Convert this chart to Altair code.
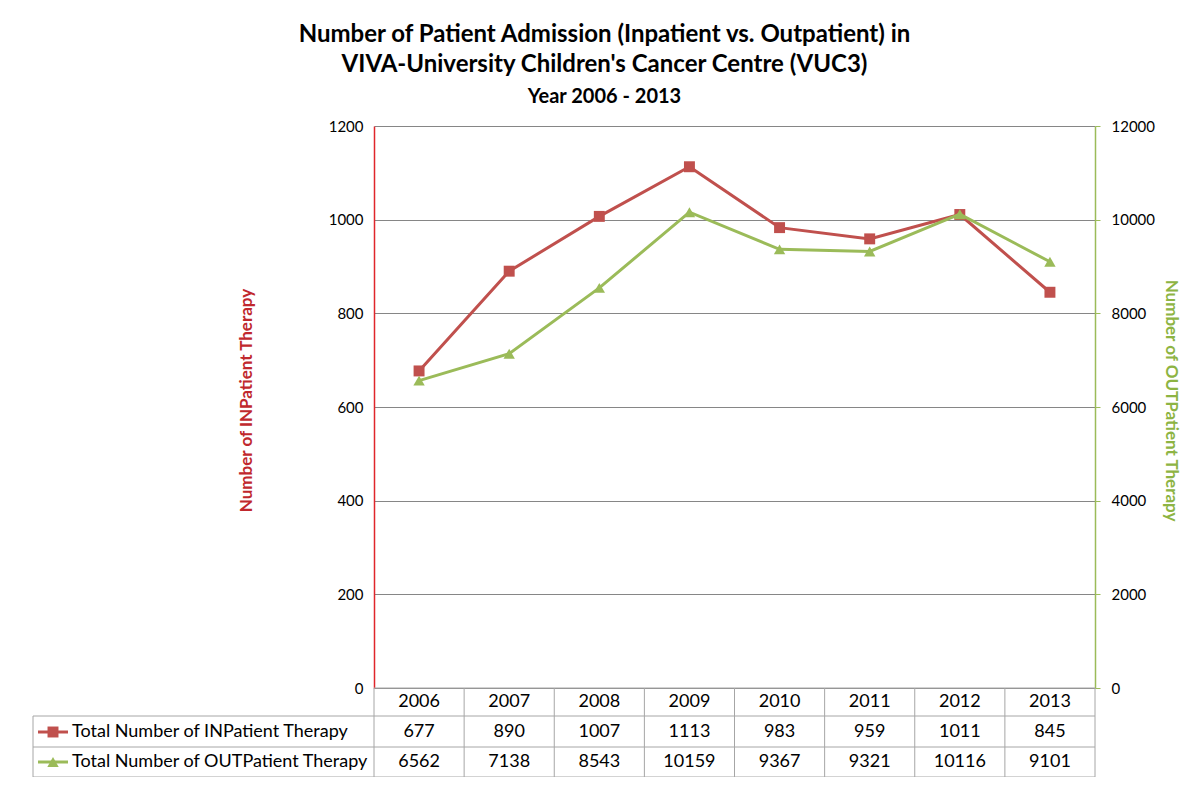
import altair as alt
import pandas as pd

years = ["2006", "2007", "2008", "2009", "2010", "2011", "2012", "2013"]
inpatient = [677, 890, 1007, 1113, 983, 959, 1011, 845]
outpatient = [6562, 7138, 8543, 10159, 9367, 9321, 10116, 9101]
in_ticks = [0, 200, 400, 600, 800, 1000, 1200]
out_ticks = [0, 2000, 4000, 6000, 8000, 10000, 12000]
series_labels = ["Total Number of INPatient Therapy", "Total Number of OUTPatient Therapy"]
title_lines = ["Number of Patient Admission (Inpatient vs. Outpatient) in",
               "VIVA-University Children's Cancer Centre (VUC3)"]
subtitle = "Year 2006 - 2013"

RED = "#C0504D"
GREEN = "#9BBB59"
FONT = "Lato"
W, H = 721, 562
O = 129  # reference y of plot top (for relative offsets)

df_in = pd.DataFrame({"year": years, "value": inpatient})
df_out = pd.DataFrame({"year": years, "value": outpatient})
df_years = pd.DataFrame({"year": years})

xscale = alt.Scale(type="band", domain=years, paddingInner=0, paddingOuter=0)
xenc = alt.X("year:N", scale=xscale, axis=None, bandPosition=0.5)

y_in = alt.Y("value:Q", scale=alt.Scale(domain=[0, 1200], nice=False),
             axis=alt.Axis(values=in_ticks, format="d", grid=True, gridColor="#868686", gridWidth=1,
                           domainColor="#E0262B", domainWidth=1.5, ticks=False,
                           labelPadding=11, labelFontSize=15, labelFont=FONT, labelColor="#000",
                           title="Number of INPatient Therapy", titleColor="#C0282D",
                           titleFontSize=17, titleFont=FONT, titleFontWeight="bold",
                           titleX=-128, titleY=274, titleAlign="center", titleBaseline="middle"))
y_out = alt.Y("value:Q", scale=alt.Scale(domain=[0, 12000], nice=False),
              axis=alt.Axis(orient="right", values=out_ticks, format="d", grid=False,
                            domainColor=GREEN, domainWidth=1.5, ticks=True, tickColor=GREEN,
                            tickSize=5, labelPadding=11, labelFontSize=15, labelFont=FONT,
                            labelColor="#000",
                            title="Number of OUTPatient Therapy", titleColor="#8DB443",
                            titleFontSize=17, titleFont=FONT, titleFontWeight="bold",
                            titleX=75, titleY=274, titleAlign="center", titleBaseline="middle"))

in_base = alt.Chart(df_in).encode(x=xenc, y=y_in)
left_layer = alt.layer(
    in_base.mark_line(color=RED, strokeWidth=3),
    in_base.mark_point(shape="square", filled=True, color=RED, size=120, opacity=1),
)
out_base = alt.Chart(df_out).encode(x=xenc, y=y_out)
right_layer = alt.layer(
    out_base.mark_line(color=GREEN, strokeWidth=3),
    out_base.mark_point(shape="triangle-up", filled=True, color=GREEN, size=130, opacity=1),
)

TC = "#A6A6A6"
one = pd.DataFrame({"k": [0]})
vlines = alt.Chart(df_years).mark_rule(color=TC, strokeWidth=1).encode(
    x=alt.X("year:N", scale=xscale, axis=None, bandPosition=0),
    y=alt.value(H), y2=alt.value(780 - O),
)
deco = [
    alt.Chart(one).mark_rule(color=TC).encode(x=alt.value(W), y=alt.value(H), y2=alt.value(780 - O)),
    alt.Chart(one).mark_rule(color=TC).encode(x=alt.value(-341), y=alt.value(719 - O), y2=alt.value(780 - O)),
    alt.Chart(one).mark_rule(color=TC).encode(x=alt.value(0), x2=alt.value(W), y=alt.value(H)),
    alt.Chart(one).mark_rule(color=TC).encode(x=alt.value(-341), x2=alt.value(W), y=alt.value(719 - O)),
    alt.Chart(one).mark_rule(color=TC).encode(x=alt.value(-341), x2=alt.value(W), y=alt.value(750 - O)),
    alt.Chart(one).mark_rule(color=TC).encode(x=alt.value(-341), x2=alt.value(W), y=alt.value(780 - O)),
]

tx = alt.X("year:N", scale=xscale, axis=None, bandPosition=0.5)
TS = 18
hdr = alt.Chart(df_years).mark_text(fontSize=TS, font=FONT, color="#000", baseline="middle").encode(
    x=tx, y=alt.value(705 - O), text="year:N")
row1 = alt.Chart(df_in).mark_text(fontSize=TS, font=FONT, color="#000", baseline="middle").encode(
    x=tx, y=alt.value(735 - O), text="value:Q")
row2 = alt.Chart(df_out).mark_text(fontSize=TS, font=FONT, color="#000", baseline="middle").encode(
    x=tx, y=alt.value(765 - O), text="value:Q")

lab_df = pd.DataFrame({"label": series_labels})
lab1 = alt.Chart(lab_df.iloc[[0]]).mark_text(fontSize=TS, font=FONT, color="#000", align="left", baseline="middle").encode(
    x=alt.value(-302), y=alt.value(735 - O), text="label:N")
lab2 = alt.Chart(lab_df.iloc[[1]]).mark_text(fontSize=TS, font=FONT, color="#000", align="left", baseline="middle").encode(
    x=alt.value(-302), y=alt.value(765 - O), text="label:N")
keys = [
    alt.Chart(one).mark_rule(color=RED, strokeWidth=3).encode(
        x=alt.value(-336), x2=alt.value(-306), y=alt.value(735 - O)),
    alt.Chart(one).mark_point(shape="square", filled=True, color=RED, size=120, opacity=1).encode(
        x=alt.value(-321), y=alt.value(735 - O)),
    alt.Chart(one).mark_rule(color=GREEN, strokeWidth=3).encode(
        x=alt.value(-336), x2=alt.value(-306), y=alt.value(765 - O)),
    alt.Chart(one).mark_point(shape="triangle-up", filled=True, color=GREEN, size=130, opacity=1).encode(
        x=alt.value(-321), y=alt.value(765 - O)),
]

chart = alt.layer(
    left_layer, right_layer, vlines, *deco, hdr, row1, row2, lab1, lab2, *keys,
).resolve_scale(y="independent").properties(
    width=W, height=H,
    padding={"left": 366, "top": 118, "right": 90, "bottom": 89},
    autosize=alt.AutoSizeParams(type="none"),
    title=alt.TitleParams(
        text=title_lines, subtitle=subtitle, anchor="middle", frame="group", dx=-130,
        fontSize=24, font=FONT, fontWeight="bold", color="#000", lineHeight=30,
        subtitleFont=FONT, subtitleFontSize=20, subtitleFontWeight="bold",
        subtitleColor="#000", subtitlePadding=10, offset=12,
    ),
).configure(background="white").configure_view(stroke=None)

chart.save("out.html", embed_options={"renderer": "svg", "actions": False})
